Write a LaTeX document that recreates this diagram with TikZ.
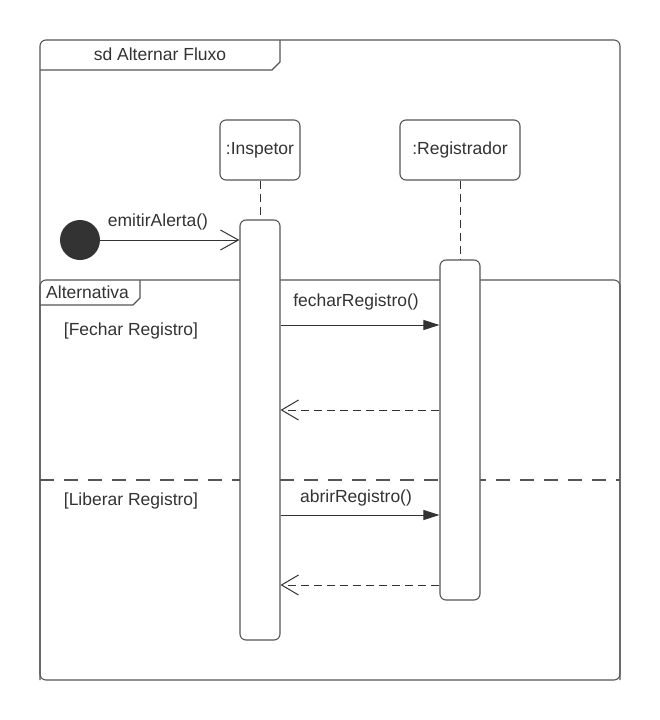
\documentclass[tikz,border=0pt]{standalone}
\usepackage{fontspec}
\setmainfont{Liberation Sans}
\usetikzlibrary{arrows.meta}
\definecolor{ln}{HTML}{555555}
\definecolor{tx}{HTML}{333333}
\tikzset{
  frm/.style={draw=ln, line width=1.1pt},
  lbl/.style={text=tx, font=\fontsize{17.5}{20}\selectfont, inner sep=0pt},
  objbox/.style={draw=ln, fill=white, line width=1.1pt, rounded corners=6pt, minimum height=60pt, text=tx, font=\fontsize{17.5}{20}\selectfont},
  actbox/.style={draw=ln, fill=white, line width=1.1pt, rounded corners=6pt, minimum width=40pt},
  lifeln/.style={draw=tx, line width=1pt, dash pattern=on 8pt off 5pt},
  syncmsg/.style={draw=tx, line width=1pt, -{Triangle[length=16pt,width=10pt]}},
  retmsg/.style={draw=tx, line width=1pt, dash pattern=on 8pt off 5pt, -{Straight Barb[length=17pt,width=20pt,line width=1pt]}},
  foundmsg/.style={draw=tx, line width=1pt, -{Straight Barb[length=18pt,width=20pt,line width=1pt]}},
}
\begin{document}
\begin{tikzpicture}[x=1pt,y=-1pt]
\useasboundingbox (0,0) rectangle (660,720);
% outer frame
\draw[frm, rounded corners=6pt] (40,40) rectangle (620,680);
\draw[frm] (40,70) -- (272,70) -- (280,62) -- (280,40);
\node[lbl] (title) at (160,54) {sd Alternar Fluxo};
% alt fragment
\draw[frm, rounded corners=6pt] (40,680) -- (40,280) -- (620,280) -- (620,680);
\draw[frm] (40,305) -- (133,305) -- (140,298) -- (140,280);
\node[lbl, anchor=west] (alt) at (46,292) {Alternativa};
\draw[frm, dash pattern=on 14pt off 10pt] (40,480) -- (620,480);
\node[lbl] (g1) at (131,331) {[Fechar Registro]};
\node[lbl] (g2) at (131,501) {[Liberar Registro]};
% lifelines
\node[objbox, minimum width=80pt] (insp) at (260,150) {:Inspetor};
\node[objbox, minimum width=120pt] (reg) at (460,150) {:Registrador};
\node[actbox, minimum height=420pt] (ia) at (260,430) {};
\node[actbox, minimum height=340pt] (ra) at (460,430) {};
\draw[lifeln] (insp.south) -- (ia.north);
\draw[lifeln] (reg.south) -- (ra.north);
% initial
\node[circle, fill=tx, minimum size=40pt, inner sep=0pt] (start) at (80,240) {};
\draw[foundmsg] (start.east) -- (ia.west |- start.east);
\node[lbl] (m0) at (158,222) {emitirAlerta()};
% messages
\coordinate (y1) at (0,325);
\coordinate (y2) at (0,410);
\coordinate (y3) at (0,515);
\coordinate (y4) at (0,585);
\draw[syncmsg] (ia.east |- y1) -- (ra.west |- y1);
\node[lbl] (m1) at (356,302) {fecharRegistro()};
\draw[retmsg] (ra.west |- y2) -- (ia.east |- y2);
\draw[syncmsg] (ia.east |- y3) -- (ra.west |- y3);
\node[lbl] (m2) at (356,498) {abrirRegistro()};
\draw[retmsg] (ra.west |- y4) -- (ia.east |- y4);
\end{tikzpicture}
\end{document}
